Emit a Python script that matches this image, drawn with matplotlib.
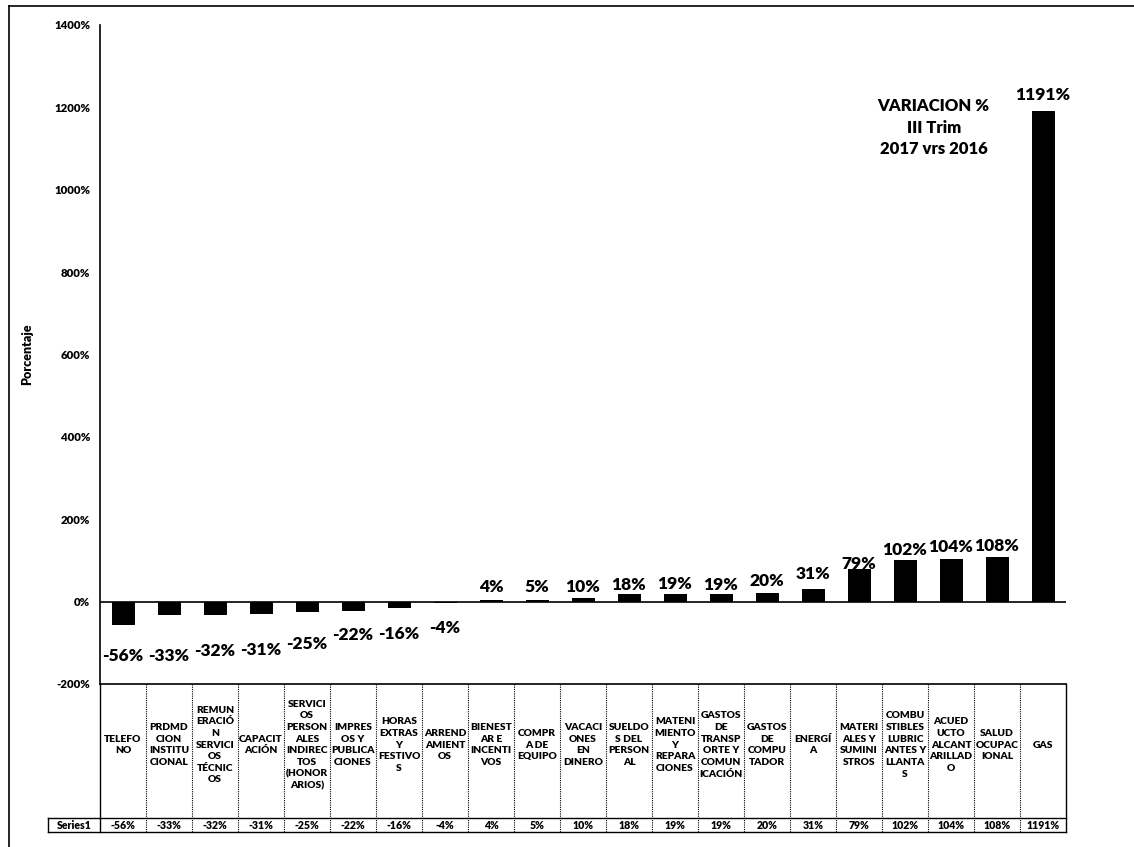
import numpy as np
import matplotlib.pyplot as plt
from matplotlib.lines import Line2D
from matplotlib.ticker import FuncFormatter

plt.rcParams['font.family'] = ['Lato', 'DejaVu Sans']

categories = [
    "TELEFO\nNO",
    "PRDMD\nCION\nINSTITU\nCIONAL",
    "REMUN\nERACIÓ\nN\nSERVICI\nOS\nTÉCNIC\nOS",
    "CAPACIT\nACIÓN",
    "SERVICI\nOS\nPERSON\nALES\nINDIREC\nTOS\n(HONOR\nARIOS)",
    "IMPRES\nOS Y\nPUBLICA\nCIONES",
    "HORAS\nEXTRAS\nY\nFESTIVO\nS",
    "ARREND\nAMIENT\nOS",
    "BIENEST\nAR E\nINCENTI\nVOS",
    "COMPR\nA DE\nEQUIPO",
    "VACACI\nONES\nEN\nDINERO",
    "SUELDO\nS DEL\nPERSON\nAL",
    "MATENI\nMIENTO\nY\nREPARA\nCIONES",
    "GASTOS\nDE\nTRANSP\nORTE Y\nCOMUN\nICACIÓN",
    "GASTOS\nDE\nCOMPU\nTADOR",
    "ENERGÍ\nA",
    "MATERI\nALES Y\nSUMINI\nSTROS",
    "COMBU\nSTIBLES\nLUBRIC\nANTES Y\nLLANTA\nS",
    "ACUED\nUCTO\nALCANT\nARILLAD\nO",
    "SALUD\nOCUPAC\nIONAL",
    "GAS",
]
values = [-56, -33, -32, -31, -25, -22, -16, -4, 4, 5, 10, 18, 19, 19, 20,
          31, 79, 102, 104, 108, 1191]
series_name = "Series1"
title_text = "VARIACION %\nIII Trim\n2017 vrs 2016"
y_label = "Porcentaje"

# where the data labels sit, relative to the bar end (in % units)
label_offset = [-77, -98, -89, -86, -79, -58, -62, -61, 32, 31, 26, 23, 25, 22,
                29, 35, 13, 24, 29, 28, 39]

W, H = 1134, 847
fig = plt.figure(figsize=(W / 100, H / 100), dpi=100)

def px_box(x0, y0, x1, y1):
    # pixel box (top-left origin) -> figure fraction rect
    return [x0 / W, 1 - y1 / H, (x1 - x0) / W, (y1 - y0) / H]

n = len(values)
x = np.arange(n)
wt = 'heavy'

ax = fig.add_axes(px_box(100, 25, 1066, 684))
ax.bar(x, values, width=0.5, color='black', zorder=2)
ax.axhline(0, color='black', lw=1.2, zorder=3)
ax.set_xlim(-0.5, n - 0.5)
ax.set_ylim(-200, 1400)
ax.set_yticks(np.arange(-200, 1401, 200))
ax.yaxis.set_major_formatter(FuncFormatter(lambda v, p: f"{int(v)}%"))
ax.tick_params(axis='y', length=0, pad=7, labelsize=8.2)
for t in ax.get_yticklabels():
    t.set_fontweight(wt)
ax.set_xticks([])
for s in ['top', 'right', 'bottom']:
    ax.spines[s].set_visible(False)
ax.spines['left'].set_linewidth(1.2)
ax.set_ylabel(y_label, fontsize=9, fontweight=wt)
ax.yaxis.set_label_coords(-0.069, 0.5)

for xi, v, off in zip(x, values, label_offset):
    ax.text(xi, v + off, f"{v}%", ha='center', va='center',
            fontsize=12.5, fontweight=wt)

ax.text(0.863, 0.844, title_text, transform=ax.transAxes, ha='center',
        va='center', fontsize=12, fontweight=wt, linespacing=1.42)

# data table under the chart
tab = fig.add_axes(px_box(100, 684, 1066, 832))
tab.set_xlim(-0.5, n - 0.5)
tab.set_ylim(148, 0)
tab.axis('off')
row_split = 134
for i, lab in enumerate(categories):
    tab.text(i, 61, lab, ha='center', va='center', fontsize=7.4,
             fontweight=wt, linespacing=1.38)
    tab.text(i, (row_split + 148) / 2, f"{values[i]}%", ha='center',
             va='center', fontsize=7.6, fontweight=wt)
for i in range(1, n):
    tab.plot([i - 0.5, i - 0.5], [0, 148], color='black', lw=0.8,
             ls=(0, (1, 1)), clip_on=False)
left_ext = -0.5 - 52 / 46
tab.plot([-0.5, n - 0.5], [0, 0], color='black', lw=1.2, clip_on=False)
tab.plot([-0.5, -0.5], [0, 148], color='black', lw=1, clip_on=False)
tab.plot([n - 0.5, n - 0.5], [0, 148], color='black', lw=1, clip_on=False)
tab.plot([left_ext, n - 0.5], [row_split, row_split], color='black', lw=1,
         clip_on=False)
tab.plot([left_ext, n - 0.5], [148, 148], color='black', lw=1, clip_on=False)
tab.plot([left_ext, left_ext], [row_split, 148], color='black', lw=1,
         clip_on=False)
tab.text((left_ext - 0.5) / 2, (row_split + 148) / 2, series_name, ha='center',
         va='center', fontsize=7.6, fontweight=wt)

# chart area border (left and top edges show in the scan)
fig.add_artist(Line2D([9 / W, 9 / W], [0, 1 - 6 / H], color='black', lw=1.2))
fig.add_artist(Line2D([9 / W, 1], [1 - 6 / H, 1 - 6 / H], color='black', lw=1.2))

fig.savefig('out.png', dpi=100)
